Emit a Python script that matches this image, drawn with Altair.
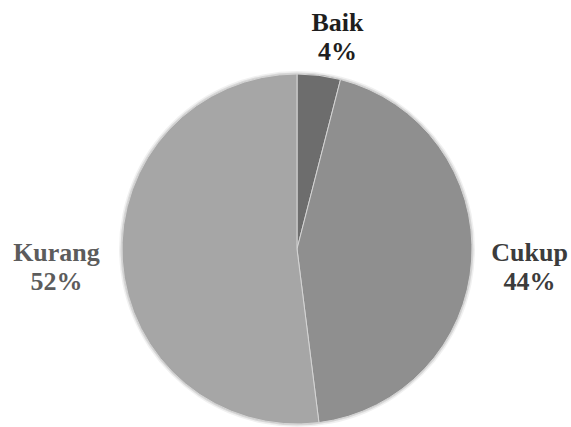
import altair as alt
import pandas as pd

# Share of respondents per category
categories = ["Baik", "Cukup", "Kurang"]
percent = [4, 44, 52]
slice_colors = ["#6d6d6d", "#8f8f8f", "#a6a6a6"]
label_colors = ["#1e1e1e", "#3c3c3c", "#5c5c5c"]

df = pd.DataFrame({
    "kategori": categories,
    "persen": percent,
    "urut": list(range(len(categories))),
})

R = 175
theta_scale = alt.Scale(domain=[0, sum(percent)])

base = alt.Chart(df)

# faint halo around the pie
halo = base.mark_arc(outerRadius=R + 3, stroke=None).encode(
    theta=alt.Theta("sum(persen):Q", scale=theta_scale),
    color=alt.value("#000000"),
    opacity=alt.value(0.06),
)
halo2 = base.mark_arc(outerRadius=R + 1.5, stroke=None).encode(
    theta=alt.Theta("sum(persen):Q", scale=theta_scale),
    color=alt.value("#000000"),
    opacity=alt.value(0.10),
)

pie = base.mark_arc(outerRadius=R, stroke="#d4d4d4", strokeWidth=1).encode(
    theta=alt.Theta("persen:Q", stack=True, scale=theta_scale),
    order=alt.Order("urut:Q"),
    color=alt.Color("kategori:N",
                    scale=alt.Scale(domain=categories, range=slice_colors),
                    legend=None),
)

# label angle = middle of each slice
lab = (
    base.transform_window(akhir="sum(persen)", sort=[alt.SortField("urut")])
    .transform_calculate(
        tengah="datum.akhir - datum.persen / 2",
        teks="[datum.kategori, datum.persen + '%']",
    )
)

# per-label radius and nudge
placement = {
    "Baik": dict(radius=211, dx=14, dy=-17),
    "Cukup": dict(radius=233, dx=0, dy=-11),
    "Kurang": dict(radius=241, dx=0, dy=-11),
}

labels = []
for cat, col in zip(categories, label_colors):
    p = placement[cat]
    labels.append(
        lab.transform_filter(alt.datum.kategori == cat)
        .mark_text(
            font="Liberation Serif",
            fontWeight="bold", fontSize=26,
            lineHeight=29, align="center", baseline="middle",
            color=col, radius=p["radius"], dx=p["dx"], dy=p["dy"],
        )
        .encode(
            theta=alt.Theta("tengah:Q", stack=None, scale=theta_scale),
            text="teks:N",
        )
    )

chart = (
    alt.layer(halo, halo2, pie, *labels)
    .properties(
        width=548, height=356,
        autosize=alt.AutoSizeParams(type="none"),
        padding={"left": 23, "top": 71, "right": 0, "bottom": 0},
        background="#ffffff",
    )
    .configure_view(stroke=None)
)

chart.save("out.html", embed_options={"renderer": "svg", "actions": False})
